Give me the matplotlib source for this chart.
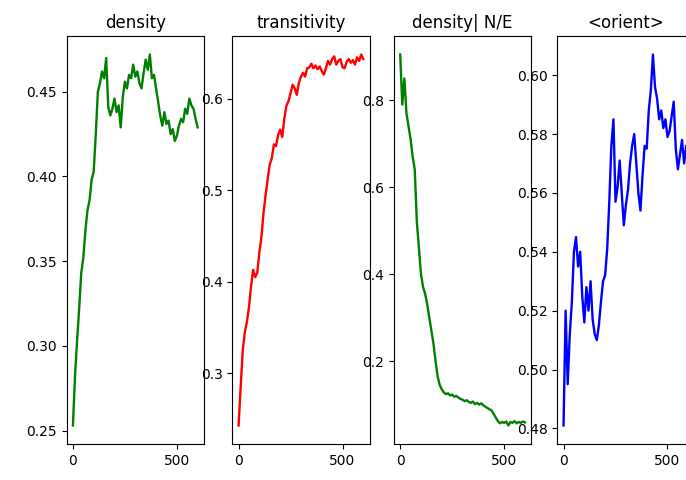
import numpy as np
import matplotlib
matplotlib.use("Agg")
import matplotlib.pyplot as plt
from matplotlib.ticker import MultipleLocator

# time steps of the run (every 10th step)
steps = np.arange(0, 601, 10)

density = [0.253, 0.282, 0.303, 0.322, 0.343, 0.352, 0.368, 0.380, 0.386, 0.398,
           0.403, 0.425, 0.450, 0.455, 0.462, 0.458, 0.470, 0.441, 0.436, 0.440,
           0.446, 0.438, 0.442, 0.429, 0.447, 0.456, 0.452, 0.460, 0.458, 0.466,
           0.459, 0.462, 0.455, 0.452, 0.461, 0.469, 0.463, 0.472, 0.458, 0.460,
           0.452, 0.444, 0.436, 0.430, 0.438, 0.431, 0.433, 0.425, 0.428, 0.421,
           0.424, 0.430, 0.434, 0.432, 0.440, 0.437, 0.446, 0.442, 0.440, 0.434,
           0.429]

transitivity = [0.243, 0.285, 0.325, 0.345, 0.356, 0.372, 0.395, 0.413, 0.405, 0.410,
                0.432, 0.449, 0.475, 0.495, 0.512, 0.528, 0.535, 0.550, 0.548, 0.560,
                0.566, 0.558, 0.578, 0.592, 0.597, 0.606, 0.615, 0.611, 0.604, 0.617,
                0.624, 0.628, 0.624, 0.633, 0.634, 0.638, 0.633, 0.636, 0.632, 0.635,
                0.630, 0.626, 0.633, 0.641, 0.637, 0.643, 0.646, 0.637, 0.641, 0.643,
                0.634, 0.633, 0.640, 0.643, 0.639, 0.642, 0.637, 0.645, 0.641, 0.648,
                0.643]

density_ne = [0.905, 0.790, 0.850, 0.770, 0.740, 0.710, 0.670, 0.640, 0.520, 0.460,
              0.400, 0.370, 0.355, 0.330, 0.300, 0.270, 0.240, 0.200, 0.165, 0.145,
              0.135, 0.128, 0.124, 0.126, 0.121, 0.123, 0.118, 0.120, 0.116, 0.113,
              0.111, 0.108, 0.110, 0.106, 0.104, 0.107, 0.101, 0.104, 0.100, 0.103,
              0.098, 0.095, 0.092, 0.089, 0.086, 0.078, 0.070, 0.062, 0.057, 0.060,
              0.058, 0.061, 0.052, 0.060, 0.058, 0.062, 0.057, 0.060, 0.058, 0.061,
              0.059]

orient = [0.481, 0.520, 0.495, 0.512, 0.523, 0.540, 0.545, 0.535, 0.540, 0.525,
          0.516, 0.528, 0.520, 0.530, 0.517, 0.512, 0.510, 0.515, 0.523, 0.530,
          0.532, 0.541, 0.557, 0.576, 0.585, 0.557, 0.562, 0.571, 0.560, 0.549,
          0.556, 0.561, 0.570, 0.576, 0.580, 0.570, 0.560, 0.554, 0.566, 0.576,
          0.575, 0.588, 0.595, 0.607, 0.596, 0.592, 0.585, 0.588, 0.582, 0.585,
          0.579, 0.581, 0.586, 0.591, 0.575, 0.568, 0.573, 0.578, 0.570, 0.576,
          0.572]

titles = ['density', 'transitivity', 'density| N/E', '<orient>']
series = [density, transitivity, density_ne, orient]
colors = ['g', 'r', 'g', 'b']
ystep = [0.05, 0.1, 0.2, 0.02]

fig = plt.figure(figsize=(6.86, 4.80), dpi=100)
lefts = [0.0972, 0.3387, 0.5743, 0.8124]
for i in range(4):
    ax = fig.add_axes([lefts[i], 0.075, 0.2, 0.85])
    ax.plot(steps, series[i], color=colors[i], lw=1.7)
    ax.set_title(titles[i])
    ax.xaxis.set_major_locator(MultipleLocator(500))
    ax.yaxis.set_major_locator(MultipleLocator(ystep[i]))

fig.savefig('out.png', dpi=100)
